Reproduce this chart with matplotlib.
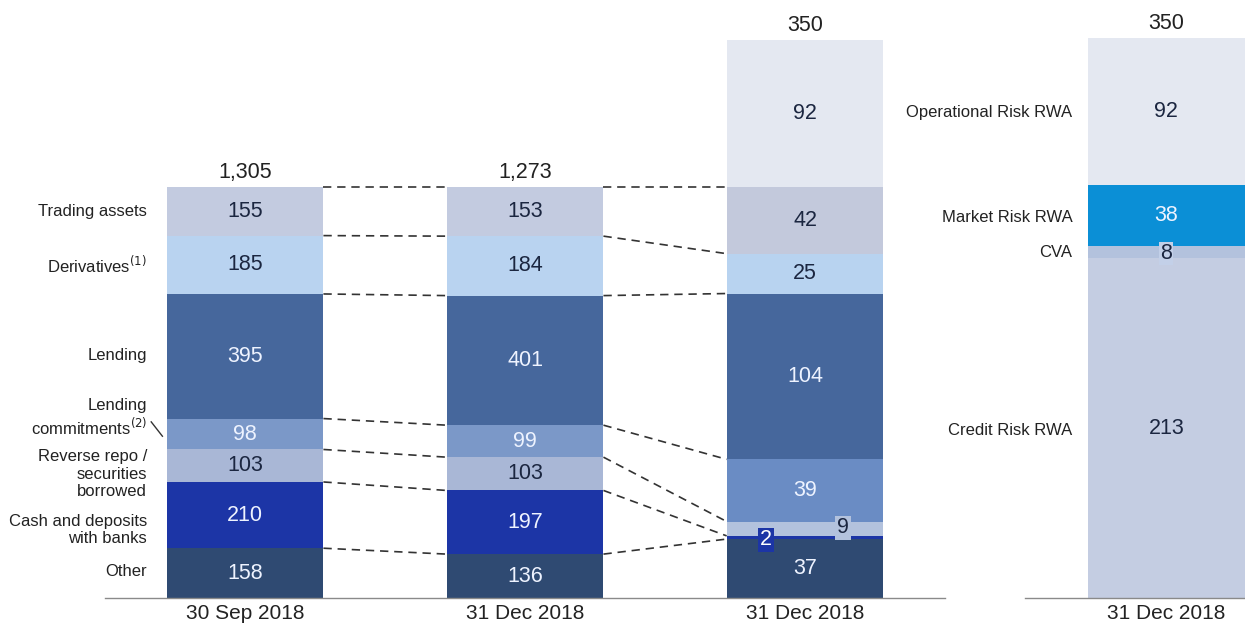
import matplotlib.pyplot as plt
import numpy as np

plt.rcParams['font.family'] = ['Liberation Sans', 'DejaVu Sans']

# asset categories, bottom to top
categories = ['Other', 'Cash and deposits\nwith banks', 'Reverse repo /\nsecurities\nborrowed',
              'Lending\ncommitments$^{(2)}$', 'Lending', 'Derivatives$^{(1)}$', 'Trading assets']
assets_sep18 = [158, 210, 103, 98, 395, 185, 155]
assets_dec18 = [136, 197, 103, 99, 401, 184, 153]
rwa_by_asset = [37, 2, 9, 39, 104, 25, 42]
op_risk_rwa = 92
totals = ['1,305', '1,273', '350', '350']
dates = ['30 Sep 2018', '31 Dec 2018', '31 Dec 2018', '31 Dec 2018']

rwa_types = ['Credit Risk RWA', 'CVA', 'Market Risk RWA', 'Operational Risk RWA']
rwa_type_values = [213, 8, 38, 92]

asset_colors = ['#2f4a72', '#1c35a6', '#a9b7d6', '#7b98c8', '#46679c', '#b9d3f0', '#c3cbe0']
rwa_asset_colors = ['#2f4a72', '#1c35a6', '#b3c2dd', '#6a8cc4', '#46679c', '#b8d3f0', '#c3c9dc']
op_color = '#e4e8f1'
rwa_type_colors = ['#c4cde2', '#b3c2dd', '#0b8fd6', op_color]
dark_txt = '#1b2640'
light_txt = '#eef3ff'
asset_txt = [light_txt, light_txt, dark_txt, light_txt, light_txt, dark_txt, dark_txt]
rwa_txt = [light_txt, light_txt, dark_txt, light_txt, light_txt, dark_txt, dark_txt]
type_txt = [dark_txt, dark_txt, light_txt, dark_txt]

xpos = [0, 1, 2, 3.29]
width = 0.56
val_fs = 15.5
date_fs = 15
lab_fs = 12

fig = plt.figure(figsize=(12.45, 6.25), dpi=100)
ax = fig.add_axes([0, 0, 1, 1])
ax.set_xlim(-0.875, 3.571)
ax.set_ylim(-16.9, 375.1)
ax.axis('off')

# balance sheet bars are drawn on the same height as the credit/market RWA part
rwa_sum = sum(rwa_by_asset)
stacks = []
for vals in (assets_sep18, assets_dec18):
    scale = rwa_sum / sum(vals)
    stacks.append([v * scale for v in vals])
stacks.append(list(rwa_by_asset))

edges = []
for i, (seg, vals) in enumerate(zip(stacks, (assets_sep18, assets_dec18, rwa_by_asset))):
    cols = asset_colors if i < 2 else rwa_asset_colors
    txt = asset_txt if i < 2 else rwa_txt
    bottoms = np.concatenate([[0], np.cumsum(seg)[:-1]])
    ax.bar(xpos[i], seg, width, bottom=bottoms, color=cols, linewidth=0)
    edges.append(np.cumsum(seg))
    for j, (b, h, v) in enumerate(zip(bottoms, seg, vals)):
        if i == 2 and j in (1, 2):
            continue
        ax.text(xpos[i], b + h / 2, str(v), ha='center', va='center',
                fontsize=val_fs, color=txt[j])

# small RWA segments get boxed labels beside each other
b3 = np.concatenate([[0], np.cumsum(rwa_by_asset)[:-1]])
ax.text(xpos[2] - 0.14, b3[1] - 0.5, str(rwa_by_asset[1]), ha='center', va='center',
        fontsize=val_fs, color='white',
        bbox=dict(boxstyle='square,pad=0.08', fc='#1c35a6', ec='none'))
ax.text(xpos[2] + 0.135, b3[2] + rwa_by_asset[2] / 2 + 0.5, str(rwa_by_asset[2]),
        ha='center', va='center', fontsize=val_fs, color=dark_txt,
        bbox=dict(boxstyle='square,pad=0.08', fc='#b3c2dd', ec='none'))

# operational risk on top of the third bar
ax.bar(xpos[2], op_risk_rwa, width, bottom=rwa_sum, color=op_color, linewidth=0)
ax.text(xpos[2], rwa_sum + op_risk_rwa / 2, str(op_risk_rwa), ha='center', va='center',
        fontsize=val_fs, color=dark_txt)

# RWA by type
tb = np.concatenate([[0], np.cumsum(rwa_type_values)[:-1]])
ax.bar(xpos[3], rwa_type_values, width, bottom=tb, color=rwa_type_colors, linewidth=0)
for j, (b, h) in enumerate(zip(tb, rwa_type_values)):
    if rwa_types[j] == 'CVA':
        ax.text(xpos[3], b + h / 2 - 1, str(h), ha='center', va='center', fontsize=val_fs,
                color=dark_txt, bbox=dict(boxstyle='square,pad=0.05', fc='#c3d0e8', ec='none'))
    else:
        ax.text(xpos[3], b + h / 2, str(h), ha='center', va='center', fontsize=val_fs,
                color=type_txt[j])
type_label_y = [105.4, 216.6, 238.4, 304.3]
for name, y in zip(rwa_types, type_label_y):
    ax.text(2.955, y, name, ha='right', va='center', fontsize=lab_fs, color='#222222')

# dashed connectors between matching boundaries
for i in range(2):
    for a, b in zip(edges[i], edges[i + 1]):
        ax.plot([xpos[i] + width / 2, xpos[i + 1] - width / 2], [a, b],
                ls=(0, (5, 3.5)), color='#333333', lw=1.2)

# totals and dates
tops = [rwa_sum, rwa_sum, rwa_sum + op_risk_rwa, sum(rwa_type_values)]
for x, t, top, d in zip(xpos, totals, tops, dates):
    ax.text(x, top + 2.5, t, ha='center', va='bottom', fontsize=val_fs, color='#222222')
    ax.text(x, -4, d, ha='center', va='top', fontsize=date_fs, color='#222222')

# category labels on the left
cat_label_y = [16.9, 42.7, 77.8, 112.9, 152.4, 208.9, 242.2]
for name, y in zip(categories, cat_label_y):
    ax.text(-0.35, y, name, ha='right', va='center', fontsize=lab_fs,
            color='#222222', linespacing=1.2)
ax.plot([-0.335, -0.295], [110.5, 101.5], color='#333333', lw=1)

# baselines
ax.plot([-0.5, 2.5], [0, 0], color='#8a8a8a', lw=1)
ax.plot([2.786, 3.571], [0, 0], color='#8a8a8a', lw=1)

fig.savefig('out.png', dpi=100)
